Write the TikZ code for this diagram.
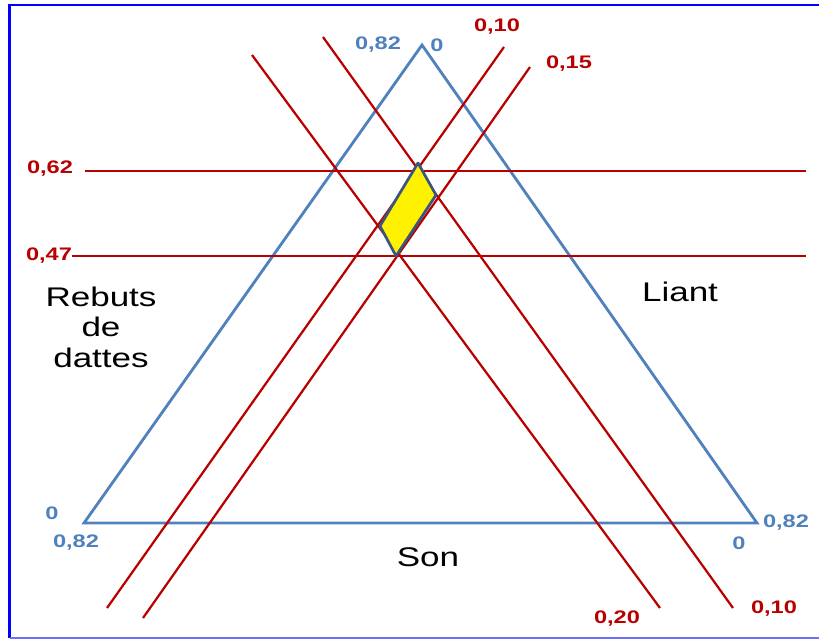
\documentclass[tikz,border=0pt]{standalone}
\usepackage{fontspec}
\setmainfont{Liberation Sans}
\usepackage{graphicx}
\usetikzlibrary{positioning}
\definecolor{xBlue}{RGB}{79,129,189}
\definecolor{xRed}{RGB}{185,0,0}
\definecolor{xFrame}{RGB}{0,0,255}
\definecolor{xPale}{RGB}{110,110,255}
\definecolor{xEdge}{RGB}{60,85,125}
\newcommand{\wide}[1]{\scalebox{1.3}[1]{#1}}
\tikzset{
  side/.style={xBlue, line width=2.4pt, line join=miter},
  cut/.style={xRed, line width=1.9pt},
  zone/.style={fill=yellow, draw=xEdge, line width=2.3pt, line join=round},
  blab/.style={text=xBlue, font=\bfseries\fontsize{15.5}{18}\selectfont, inner sep=0pt},
  rlab/.style={text=xRed, font=\bfseries\fontsize{15.5}{18}\selectfont, inner sep=0pt},
  pole/.style={font=\fontsize{23}{27}\selectfont, align=center, inner sep=0pt},
}

\begin{document}
\begin{tikzpicture}[x=0.03cm, y=-0.03cm]
    \useasboundingbox (0,0) rectangle (819,639);
    % frame
    \draw[xFrame, line width=2.5pt] (819,5) -- (9.5,5) -- (9.5,638);
    \draw[xPale, line width=1.5pt] (9.5,638) -- (819,638);
    % triangle
    \coordinate (top) at (422,45);
    \coordinate (bl)  at (84,523);
    \coordinate (br)  at (757,523);
    \draw[side] (top) -- (bl) -- (br) -- cycle;
    % end points of the red lines
    \coordinate (h1a) at (85,171);  \coordinate (h1b) at (806,171);
    \coordinate (h2a) at (72,256);  \coordinate (h2b) at (806,256);
    \coordinate (r1a) at (107,608); \coordinate (r1b) at (504,47);
    \coordinate (r2a) at (143,618); \coordinate (r2b) at (530,67);
    \coordinate (f1a) at (252,55);  \coordinate (f1b) at (660,608);
    \coordinate (f2a) at (323,37);  \coordinate (f2b) at (733,608);
    \draw[cut] (h1a) -- (h1b);
    \draw[cut] (h2a) -- (h2b);
    \draw[cut] (r1a) -- (r1b);
    \draw[cut] (r2a) -- (r2b);
    \draw[cut] (f1a) -- (f1b);
    \draw[cut] (f2a) -- (f2b);
    % feasible zone
    \coordinate (p1) at (418,163);
    \coordinate (p2) at (436,195);
    \coordinate (p3) at (396,256);
    \coordinate (p4) at (380,226);
    \draw[zone] (p1) -- (p2) -- (p3) -- (p4) -- cycle;
    % axis values
    \node[blab] (t82) at (378,45)  {\wide{0,82}};
    \node[blab] (t0)  at (437,45)  {\wide{0}};
    \node[blab] (l0)  at (52,513)  {\wide{0}};
    \node[blab] (l82) at (76,543)  {\wide{0,82}};
    \node[blab] (r82) at (786,523) {\wide{0,82}};
    \node[blab] (r0)  at (739,543) {\wide{0}};
    \node[rlab] (v10) at (497,27)  {\wide{0,10}};
    \node[rlab] (v15) at (569,64)  {\wide{0,15}};
    \node[rlab] (v62) at (50,169)  {\wide{0,62}};
    \node[rlab] (v47) at (49,256)  {\wide{0,47}};
    \node[rlab] (v20) at (617,619) {\wide{0,20}};
    \node[rlab] (w10) at (774,609) {\wide{0,10}};
    % components
    \node[pole] (reb)  at (101,327) {\wide{Rebuts}\\[-1pt]\wide{de}\\[-1pt]\wide{dattes}};
    \node[pole] (lia)  at (680,292) {\wide{Liant}};
    \node[pole] (son)  at (428,557) {\wide{Son}};
\end{tikzpicture}
\end{document}
